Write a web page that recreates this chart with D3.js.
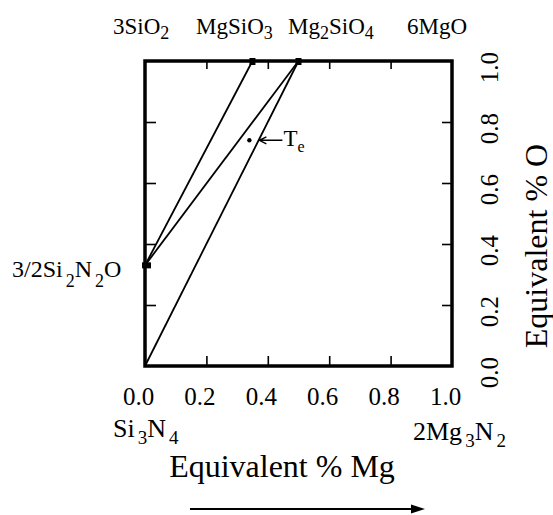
<!DOCTYPE html>
<html>
<head>
<meta charset="utf-8">
<script src="https://cdn.jsdelivr.net/npm/d3@7"></script>
<style>
  html, body { margin: 0; padding: 0; background: #fff; }
  svg { display: block; }
  svg text { font-family: "Liberation Serif", "Tinos", "Times New Roman", Times, "Nimbus Roman", "DejaVu Serif", serif !important; fill: #000; }
</style>
</head>
<body>
<svg id="chart" width="553" height="515"></svg>
<script>
// Si-Mg-O-N equivalent composition square; "_" marks a subscript digit
const tickValues = [0, 0.2, 0.4, 0.6, 0.8, 1.0];
const tickLabels = ["0.0", "0.2", "0.4", "0.6", "0.8", "1.0"];

const topCompounds = ["3SiO_2", "MgSiO_3", "Mg_2SiO_4", "6MgO"];
const leftCompound = "3/2Si_2N_2O";
const bottomCompounds = ["Si_3N_4", "2Mg_3N_2"];

// phases in the diagram: equivalent fraction Mg, equivalent fraction O
const phaseNames = ["Si3N4", "Si2N2O", "MgSiO3", "Mg2SiO4"];
const phaseMg = [0, 0, 0.35, 0.5];
const phaseO = [0, 0.33, 1, 1];
// tie lines between phases (indices into the phase arrays)
const tieLines = [[0, 3], [1, 3], [1, 2]];
// phases shown with a square marker on the frame
const markedPhases = [1, 2, 3];

// eutectic point
const eutecticName = ["T", "e"];
const eutecticMg = 0.34;
const eutecticO = 0.74;

const xTitle = "Equivalent % Mg";
const yTitle = "Equivalent % O";

const svg = d3.select("#chart");
const L = 145, R = 452, T = 61, B = 366;
const x = d3.scaleLinear().domain([0, 1]).range([L, R]);
const y = d3.scaleLinear().domain([0, 1]).range([B, T]);

// writes a label with subscripts into a text element
function richText(sel, label, size, subSize, subDrop, gap) {
  const parts = label.split(/(_\d)/).filter(s => s.length);
  const baseY = +sel.attr("y");
  parts.forEach(p => {
    const sub = p.startsWith("_");
    const t = sel.append("tspan")
      .text(sub ? p.slice(1) : p)
      .attr("y", sub ? baseY + subDrop : baseY)
      .style("font-size", (sub ? subSize : size) + "px");
    if (sub && gap) t.attr("dx", gap);
  });
}

// axes with inward ticks
const gB = svg.append("g").attr("transform", `translate(0,${B})`)
  .call(d3.axisBottom(x).tickValues(tickValues)
    .tickFormat((d, i) => tickLabels[i]).tickSize(-10).tickSizeOuter(0).tickPadding(21));
gB.selectAll("text").attr("dx", -7).style("font-size", "25px");

const gT = svg.append("g").attr("transform", `translate(0,${T})`)
  .call(d3.axisTop(x).tickValues(tickValues.slice(1, -1)).tickFormat("").tickSize(-8).tickSizeOuter(0));

const gL = svg.append("g").attr("transform", `translate(${L},0)`)
  .call(d3.axisLeft(y).tickValues(tickValues.slice(1, -1)).tickFormat("").tickSize(-11).tickSizeOuter(0));

const gR = svg.append("g").attr("transform", `translate(${R},0)`)
  .call(d3.axisRight(y).tickValues(tickValues)
    .tickFormat((d, i) => tickLabels[i]).tickSize(-10).tickSizeOuter(0));
gR.selectAll("text")
  .attr("x", null).attr("dy", null)
  .attr("text-anchor", "middle")
  .attr("transform", "translate(46,6) rotate(-90)")
  .style("font-size", "25px");

[gB, gT, gL, gR].forEach(g => {
  g.select(".domain").remove();
  g.selectAll(".tick line").attr("stroke", "#000").attr("stroke-width", 1.6);
});
gB.selectAll(".tick").filter(d => d === 0 || d === 1).select("line").remove();
gR.selectAll(".tick").filter(d => d === 0 || d === 1).select("line").remove();

// frame
svg.append("rect")
  .attr("x", L).attr("y", T).attr("width", R - L).attr("height", B - T)
  .attr("fill", "none").attr("stroke", "#000").attr("stroke-width", 3.5);

// tie lines
svg.append("g").selectAll("line").data(tieLines).join("line")
  .attr("x1", d => x(phaseMg[d[0]])).attr("y1", d => y(phaseO[d[0]]))
  .attr("x2", d => x(phaseMg[d[1]])).attr("y2", d => y(phaseO[d[1]]))
  .attr("stroke", "#000").attr("stroke-width", 1.8);

// phase markers on the frame
svg.append("g").selectAll("rect").data(markedPhases).join("rect")
  .attr("x", i => phaseMg[i] === 0 ? x(0) - 3 : x(phaseMg[i]) - 3)
  .attr("y", i => y(phaseO[i]) - 3)
  .attr("width", i => phaseMg[i] === 0 ? 9 : 6)
  .attr("height", i => phaseMg[i] === 0 ? 6 : 7)
  .attr("fill", "#000");

// eutectic point with pointer
const ex = x(eutecticMg), ey = y(eutecticO);
svg.append("circle").attr("cx", ex).attr("cy", ey).attr("r", 2.2).attr("fill", "#000");
const tip = ex + 10, tail = ex + 33;
svg.append("path")
  .attr("d", `M${tail},${ey} L${tip},${ey} M${tip + 7},${ey - 3.5} L${tip},${ey} L${tip + 7},${ey + 3.5}`)
  .attr("fill", "none").attr("stroke", "#000").attr("stroke-width", 1.4);
const te = svg.append("text").attr("x", tail + 1).attr("y", ey + 6);
te.append("tspan").text(eutecticName[0]).style("font-size", "23px");
te.append("tspan").text(eutecticName[1]).attr("y", ey + 12).style("font-size", "16px");

// compound labels
const topX = [113, 196, 288, 407];
topCompounds.forEach((c, i) => {
  const t = svg.append("text").attr("x", topX[i]).attr("y", 34);
  richText(t, c, 23, 18, 5, 0);
});

const lt = svg.append("text").attr("x", 12).attr("y", 277);
richText(lt, leftCompound, 24, 18, 10, 3);

const botX = [113, 413], botY = [437, 440];
bottomCompounds.forEach((c, i) => {
  const t = svg.append("text").attr("x", botX[i]).attr("y", botY[i]);
  richText(t, c, 26, 19, 7, 3);
});

// axis titles
svg.append("text").attr("x", 282).attr("y", 477)
  .attr("text-anchor", "middle").style("font-size", "32px").text(xTitle);
svg.append("text")
  .attr("transform", `translate(547,246) rotate(-90)`)
  .attr("text-anchor", "middle").style("font-size", "32px").text(yTitle);

// direction arrow under the Mg title
svg.append("line").attr("x1", 190).attr("x2", 413).attr("y1", 509).attr("y2", 509)
  .attr("stroke", "#000").attr("stroke-width", 2);
svg.append("path").attr("d", "M425,509 L411,504.5 L411,513.5 Z").attr("fill", "#000");
</script>
</body>
</html>
